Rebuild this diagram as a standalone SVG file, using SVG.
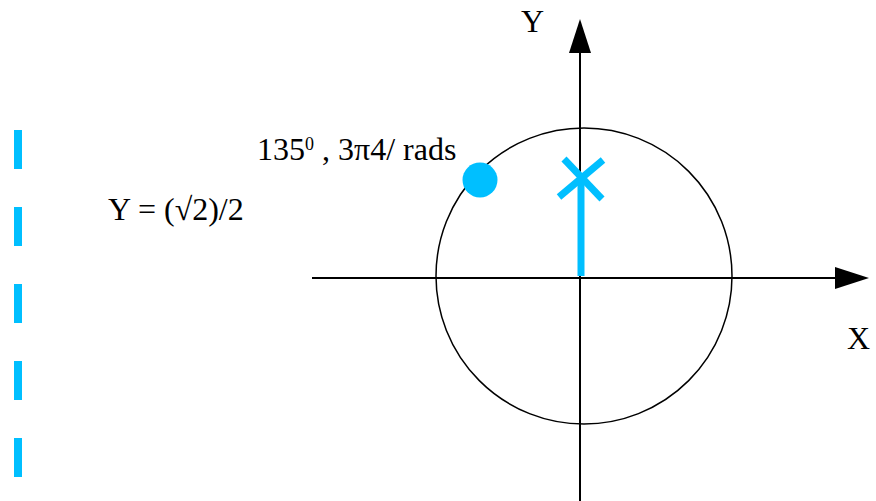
<svg xmlns="http://www.w3.org/2000/svg" width="876" height="501" viewBox="0 0 876 501">
<style>
.t{font-family:"Liberation Serif","Times New Roman",serif;font-size:32px;fill:#000}
.ax{stroke:#000;stroke-width:2;fill:none}
.cy{stroke:#00bfff;stroke-width:7;fill:none}
</style>
<rect width="876" height="501" fill="#fff"/>
<g id="dashed-line">
<line x1="18" y1="130" x2="18" y2="477" stroke="#00bfff" stroke-width="8" stroke-dasharray="39 38"/>
</g>
<g id="circle">
<circle cx="584" cy="276" r="148" fill="none" stroke="#000" stroke-width="1.5"/>
</g>
<g id="connectors">
<line class="ax" x1="580" y1="50" x2="580" y2="501"/>
<polygon points="580,19 569,53 591,53" fill="#000"/>
<line class="ax" x1="312" y1="278" x2="837" y2="278"/>
<polygon points="869,278 835,267 835,289" fill="#000"/>
</g>
<g id="marker">
<line class="cy" x1="581" y1="276" x2="581" y2="178"/>
<line class="cy" x1="564" y1="159" x2="602" y2="199"/>
<line class="cy" x1="603" y1="160" x2="559" y2="197"/>
</g>
<g id="point">
<circle cx="480" cy="180" r="17.5" fill="#00bfff"/>
</g>
<g id="labels">
<text class="t" x="521" y="32">Y</text>
<text class="t" x="847" y="349">X</text>
<text class="t" x="257" y="160">135<tspan font-size="18" dy="-10">0</tspan><tspan dy="10"> , 3π4/ rads</tspan></text>
<text class="t" x="108" y="220">Y = (√2)/2</text>
</g>
</svg>
